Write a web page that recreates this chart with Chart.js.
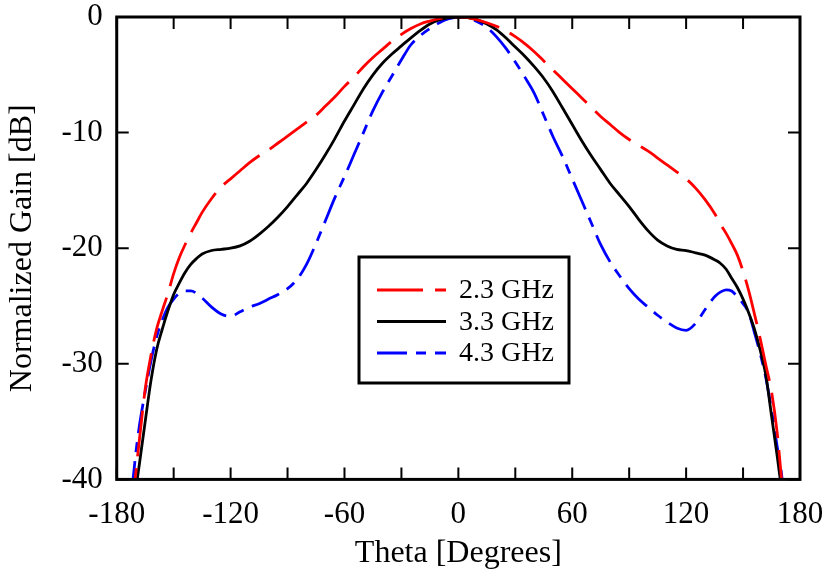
<!DOCTYPE html>
<html>
<head>
<meta charset="utf-8">
<script src="https://cdn.jsdelivr.net/npm/chart.js@4/dist/chart.umd.min.js"></script>
<style>
  html, body { margin: 0; padding: 0; background: #fff; }
  #wrap { width: 830px; height: 574px; }
</style>
</head>
<body>
<div id="wrap"><canvas id="gain"></canvas></div>
<script>
// theta in degrees
const theta = [
  -172, -170, -168, -165, -162, -159, -156, -153, -150, -147, -144, -141, -138, -135,
  -130, -125, -120, -115, -110, -105, -100, -95, -90, -85, -80, -75, -70, -65, -60,
  -55, -50, -45, -40, -35, -30, -25, -20, -15, -10, -5, 0,
  5, 10, 15, 20, 25, 30, 35, 40, 45, 50, 55, 60, 65, 70, 75, 80, 85, 90, 95, 100,
  105, 110, 115, 120, 125, 130, 135, 138, 141, 144, 147, 150, 153, 156, 159, 162,
  165, 168, 170, 172
];

// normalized gain, dB
const gain23 = [
  -43, -39.5, -36.5, -32.2, -29.3, -27.0, -25.4, -23.9, -22.2, -20.8, -19.7, -18.7, -17.8, -16.9,
  -15.7, -14.7, -14.0, -13.3, -12.6, -12.0, -11.5, -10.9, -10.3, -9.7, -9.1, -8.5, -7.7, -6.9, -6.0,
  -5.2, -4.3, -3.5, -2.8, -2.1, -1.5, -1.0, -0.6, -0.35, -0.15, -0.05, 0,
  -0.05, -0.25, -0.5, -0.8, -1.2, -1.7, -2.3, -3.0, -3.8, -4.6, -5.4, -6.2, -7.0, -7.8, -8.6, -9.3,
  -10.0, -10.6, -11.1, -11.6, -12.2, -12.8, -13.4, -14.0, -14.8, -15.8, -17.0, -17.9, -18.7, -19.6,
  -20.6, -22.0, -23.7, -25.7, -27.8, -30.1, -32.4, -36.0, -39.5, -43
];
const gain33 = [
  -44, -41, -38.6, -35, -31.5, -28.8, -27.0, -25.4, -24.0, -23.0, -22.1, -21.4, -20.9, -20.5,
  -20.2, -20.1, -20.0, -19.8, -19.4, -18.8, -18.1, -17.3, -16.4, -15.4, -14.4, -13.2, -11.9, -10.5, -9.0,
  -7.6, -6.2, -5.0, -4.0, -3.2, -2.5, -1.8, -1.15, -0.6, -0.25, -0.06, 0,
  -0.06, -0.25, -0.6, -1.1, -1.8, -2.6, -3.4, -4.3, -5.3, -6.5, -7.9, -9.3, -10.7, -12.0, -13.2, -14.4,
  -15.4, -16.4, -17.5, -18.5, -19.3, -19.8, -20.1, -20.2, -20.4, -20.6, -21.0, -21.3, -21.8, -22.6,
  -23.4, -24.4, -25.6, -27.0, -28.8, -31.0, -34.5, -38.0, -40.5, -43
];
const gain43 = [
  -41, -37.8, -35.3, -32.4, -29.8, -27.7, -26.2, -25.1, -24.4, -23.9, -23.7, -23.7, -23.9, -24.3,
  -25.1, -25.7, -25.9, -25.5, -25.1, -24.8, -24.4, -24.0, -23.5, -22.7, -21.4, -19.6, -17.6, -15.6, -13.8,
  -11.9, -10.0, -8.1, -6.5, -5.1, -3.7, -2.4, -1.6, -1.0, -0.5, -0.15, 0,
  -0.1, -0.4, -0.9, -1.7, -2.7, -3.9, -5.2, -6.6, -8.5, -10.4, -12.1, -14.0, -15.9, -17.8, -19.7, -21.2,
  -22.4, -23.5, -24.4, -25.1, -25.8, -26.4, -26.9, -27.1, -26.5, -25.3, -24.2, -23.8, -23.6, -23.7,
  -24.2, -24.8, -25.6, -27.3, -29.1, -31.2, -34.0, -37.2, -39.2, -42
];

const seriesNames = ["2.3 GHz", "3.3 GHz", "4.3 GHz"];
const xTicks = [-180, -120, -60, 0, 60, 120, 180];
const yTicks = [-40, -30, -20, -10, 0];

const serif = "'Liberation Serif', 'Times New Roman', serif";

const pts = (g) => theta.map((t, i) => ({ x: t, y: g[i] }));

// frame, inward ticks on all four sides, boxed legend
const framePlugin = {
  id: "frame",
  afterDatasetsDraw(chart) {
    const { ctx, chartArea: a, scales } = chart;
    const xs = scales.x, ys = scales.y;
    ctx.save();
    ctx.strokeStyle = "#000";
    ctx.lineWidth = 2;
    for (let v = -180; v <= 180; v += 30) {
      const px = xs.getPixelForValue(v);
      ctx.beginPath();
      ctx.moveTo(px, a.bottom); ctx.lineTo(px, a.bottom - 12);
      ctx.moveTo(px, a.top); ctx.lineTo(px, a.top + 12);
      ctx.stroke();
    }
    for (const v of yTicks) {
      const py = ys.getPixelForValue(v);
      ctx.beginPath();
      ctx.moveTo(a.left, py); ctx.lineTo(a.left + 12, py);
      ctx.moveTo(a.right, py); ctx.lineTo(a.right - 12, py);
      ctx.stroke();
    }
    ctx.lineWidth = 3;
    ctx.strokeRect(a.left, a.top, a.right - a.left, a.bottom - a.top);

    // legend
    const bx = 359, by = 257, bw = 210, bh = 126;
    ctx.fillStyle = "#fff";
    ctx.fillRect(bx, by, bw, bh);
    ctx.strokeRect(bx, by, bw, bh);
    ctx.font = "28px " + serif;
    ctx.textBaseline = "middle";
    chart.data.datasets.forEach((ds, i) => {
      const y = by + 33 + i * 31.5;
      ctx.strokeStyle = ds.borderColor;
      ctx.lineWidth = ds.borderWidth;
      ctx.setLineDash(ds.borderDash || []);
      ctx.beginPath();
      ctx.moveTo(bx + 18, y); ctx.lineTo(bx + 87, y);
      ctx.stroke();
      ctx.setLineDash([]);
      ctx.fillStyle = "#000";
      ctx.fillText(ds.label, bx + 100, y + 1);
    });
    ctx.restore();
  }
};

new Chart(document.getElementById("gain"), {
  type: "line",
  data: {
    datasets: [
      {
        label: seriesNames[0],
        data: pts(gain23),
        borderColor: "#ff0000",
        borderWidth: 2.8,
        borderDash: [46, 12],
      },
      {
        label: seriesNames[1],
        data: pts(gain33),
        borderColor: "#000000",
        borderWidth: 2.8,
      },
      {
        label: seriesNames[2],
        data: pts(gain43),
        borderColor: "#0000ff",
        borderWidth: 2.8,
        borderDash: [30, 9, 10, 9],
      },
    ],
  },
  options: {
    responsive: true,
    maintainAspectRatio: false,
    animation: false,
    layout: { padding: { left: 3, right: 30, top: 17, bottom: 0 } },
    elements: {
      point: { radius: 0 },
      line: { cubicInterpolationMode: "monotone", fill: false },
    },
    plugins: {
      legend: { display: false },
      tooltip: { enabled: false },
    },
    scales: {
      x: {
        type: "linear",
        min: -180,
        max: 180,
        afterBuildTicks: (s) => { s.ticks = xTicks.map((v) => ({ value: v })); },
        afterFit: (s) => { s.paddingLeft = 0; s.paddingRight = 0; },
        grid: { display: false, drawTicks: false },
        border: { display: false },
        ticks: {
          color: "#000",
          padding: 17,
          maxRotation: 0,
          font: { family: serif, size: 31 },
        },
        title: {
          display: true,
          text: "Theta [Degrees]",
          color: "#000",
          padding: { top: -16, bottom: 1 },
          font: { family: serif, size: 32 },
        },
      },
      y: {
        min: -40,
        max: 0,
        afterBuildTicks: (s) => { s.ticks = yTicks.map((v) => ({ value: v })); },
        afterFit: (s) => { s.paddingTop = 0; },
        grid: { display: false, drawTicks: false },
        border: { display: false },
        ticks: {
          color: "#000",
          padding: 14,
          font: { family: serif, size: 31 },
        },
        title: {
          display: true,
          text: "Normalized Gain [dB]",
          color: "#000",
          padding: { top: 0, bottom: 6 },
          font: { family: serif, size: 32 },
        },
      },
    },
  },
  plugins: [framePlugin],
});
</script>
</body>
</html>
